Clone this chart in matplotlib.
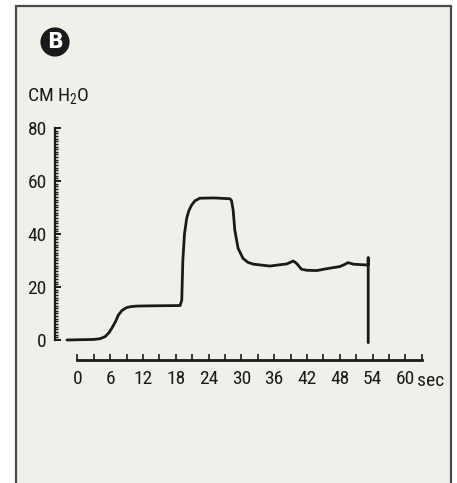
import matplotlib.pyplot as plt
from matplotlib.patches import Rectangle
from matplotlib.ticker import FixedLocator
from matplotlib import font_manager

# pressure trace
time_s = [-1.9, 3.0, 4.2, 5.1, 5.8, 6.3, 7.0, 7.5, 8.2, 9.0, 9.8, 10.9, 14.0, 18.8, 19.1,
          19.3, 19.6, 20.0, 20.4, 20.9, 21.5, 22.4, 25.0, 27.9, 28.2, 28.5, 28.8, 29.4,
          30.3, 31.2, 32.2, 35.2, 38.3, 39.5, 40.1, 41.0, 42.0, 43.8, 45.6, 48.0, 49.0,
          49.5, 50.5, 52.9, 53.2, 53.2, 53.2]
pressure = [0.0, 0.2, 0.5, 1.3, 2.8, 4.4, 7.0, 9.4, 11.2, 12.2, 12.6, 12.8, 12.9, 13.0, 15.0,
            30.0, 40.0, 45.9, 48.8, 50.9, 52.5, 53.5, 53.6, 53.3, 52.6, 49.0, 41.5, 34.6,
            30.8, 29.3, 28.6, 27.9, 28.7, 29.8, 28.9, 26.7, 26.3, 26.2, 26.9, 27.7, 28.6,
            29.2, 28.6, 28.3, 28.3, 31.0, -1.0]

x_labels = list(range(0, 61, 6))
y_labels = [0, 20, 40, 60, 80]

names = {f.name for f in font_manager.fontManager.ttflist}
fams = [f for f in ['DejaVu Sans Condensed', 'Liberation Sans Narrow', 'Roboto Condensed']
        if f in names] + ['DejaVu Sans']
plt.rcParams['font.family'] = fams
plt.rcParams['mathtext.default'] = 'regular'

W, H = 457, 483
fig = plt.figure(figsize=(W / 100, H / 100), dpi=100)
fig.patch.set_facecolor('white')

# panel frame
fig.add_artist(Rectangle((16 / W, -0.02), (451 - 16) / W, 1 - 6 / H + 0.02,
                         transform=fig.transFigure, facecolor='#eef0ea',
                         edgecolor='#4a4a4a', lw=1.6, zorder=0))

ax = fig.add_axes([55 / W, 1 - 360 / H, (430 - 55) / W, (360 - 124) / H])
ax.set_facecolor('none')
ax.plot(time_s, pressure, color='#1a1a1a', lw=2.0, solid_joinstyle='round',
        solid_capstyle='round')

ax.set_xlim(-4.08, 64.5)
ax.set_ylim(-7.55, 81.5)

for side in ['top', 'right']:
    ax.spines[side].set_visible(False)
ax.spines['left'].set_bounds(0, 80)
ax.spines['bottom'].set_bounds(0, 63)
ax.spines['left'].set_linewidth(1.6)
ax.spines['bottom'].set_linewidth(2.0)
for side in ['left', 'bottom']:
    ax.spines[side].set_color('#1a1a1a')

ax.set_xticks(x_labels)
ax.set_xticklabels([str(v) for v in x_labels])
ax.xaxis.set_minor_locator(FixedLocator(range(3, 64, 6)))
ax.set_yticks(y_labels)
ax.set_yticklabels([str(v) for v in y_labels])
ax.yaxis.set_minor_locator(FixedLocator(range(0, 81)))

ax.tick_params(axis='x', which='both', direction='in', length=4.5, width=1.2,
               pad=7, labelsize=14, color='#1a1a1a', labelcolor='#1a1a1a')
ax.tick_params(axis='y', which='major', direction='in', length=4, width=1.4,
               pad=6, labelsize=14, color='#1a1a1a', labelcolor='#1a1a1a')
ax.tick_params(axis='y', which='minor', direction='in', length=2, width=1.0,
               color='#1a1a1a')

fig.text(417 / W, 1 - 381 / H, 'sec', fontsize=14, va='center', ha='left',
         color='#1a1a1a')
fig.text(27 / W, 1 - 96 / H, 'CM H$_2$O', fontsize=14, va='center', ha='left',
         color='#1a1a1a')
fig.text(55 / W, 1 - 42 / H, 'B', fontsize=15, fontweight='bold', color='white',
         ha='center', va='center', family='DejaVu Sans',
         bbox=dict(boxstyle='circle,pad=0.22', facecolor='#1a1a1a', edgecolor='none'))

fig.savefig('out.png', dpi=100, facecolor=fig.get_facecolor())
